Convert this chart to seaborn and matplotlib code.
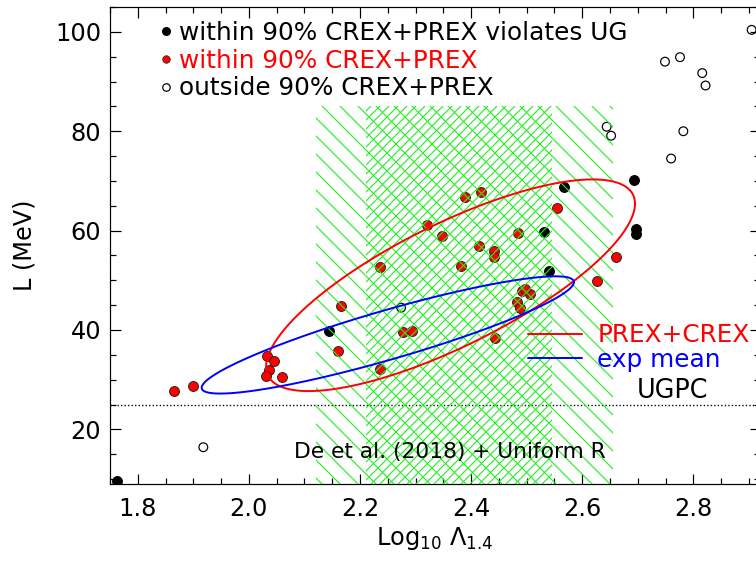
import numpy as np
import pandas as pd
import matplotlib
matplotlib.use("Agg")
import matplotlib.pyplot as plt
import seaborn as sns
from matplotlib.lines import Line2D
from matplotlib.ticker import MultipleLocator

# --- models: log10 tidal deformability vs symmetry-energy slope L (MeV) ---
viol_x = [1.762, 2.144, 2.532, 2.540, 2.567, 2.694, 2.696, 2.697]
viol_y = [9.6, 39.8, 59.8, 51.8, 68.8, 70.1, 60.3, 59.4]

within_x = [1.865, 1.899, 2.032, 2.045, 2.036, 2.031, 2.060, 2.166, 2.161,
            2.236, 2.236, 2.278, 2.293, 2.321, 2.347, 2.389, 2.418, 2.382,
            2.414, 2.441, 2.441, 2.443, 2.485, 2.554, 2.661, 2.627, 2.491,
            2.506, 2.483, 2.488, 2.497]
within_y = [27.7, 28.7, 34.7, 33.7, 31.9, 30.7, 30.6, 44.8, 35.8,
            32.1, 52.7, 39.6, 39.7, 61.2, 58.9, 66.8, 67.7, 52.9,
            56.8, 55.9, 54.6, 38.4, 59.5, 64.6, 54.6, 49.8, 47.9,
            47.2, 45.6, 44.5, 48.3]

outside_x = [1.918, 2.274, 2.644, 2.652, 2.749, 2.776, 2.816, 2.822, 2.782,
             2.760, 2.905]
outside_y = [16.4, 44.5, 80.9, 79.1, 94.0, 94.9, 91.7, 89.2, 80.0,
             74.5, 100.4]

# 90% confidence ellipses: centre, half extents, correlation
ell_names = ["PREX+CREX", "exp mean"]
ell_colors = ["red", "blue"]
ell_cx = [2.363, 2.250]
ell_cy = [49.0, 39.0]
ell_hx = [0.332, 0.335]
ell_hy = [21.3, 11.8]
ell_rho = [0.77, 0.90]

# unitary-gas lower limit on L
ugpc_L = 25.0

# GW170817 tidal-deformability band (De et al. 2018)
band_outer = [2.120, 2.655]
band_inner = [2.210, 2.545]
band_top = 85.0

sns.set_style("ticks")
plt.rcParams.update({
    "font.family": ["DejaVu Sans"],
    "mathtext.fontset": "dejavusans",
    "hatch.linewidth": 0.75,
    "axes.linewidth": 0.8,
    "axes.edgecolor": "black",
    "axes.labelcolor": "black",
    "text.color": "black",
    "xtick.color": "black",
    "ytick.color": "black",
})

fig = plt.figure(figsize=(7.0, 562 / 108), dpi=108)
ax = fig.add_axes([110 / 756, 78 / 562, 650 / 756, 477 / 562])

# points
sns.scatterplot(x=within_x, y=within_y, color="red", edgecolor="#222222",
                linewidth=0.6, s=44, zorder=3, legend=False, ax=ax)
sns.scatterplot(x=viol_x, y=viol_y, color="black", edgecolor="black",
                linewidth=0.6, s=44, zorder=3, legend=False, ax=ax)
sns.scatterplot(x=outside_x, y=outside_y, marker="o", facecolor="none",
                edgecolor="black", linewidth=0.8, s=34, zorder=3,
                legend=False, ax=ax)

# hatched band
ax.fill_between(band_outer, 0, band_top, facecolor="none", edgecolor="#22ee22",
                linewidth=0, hatch="\\\\", zorder=4)
ax.fill_between(band_inner, 0, band_top, facecolor="none", edgecolor="#22ee22",
                linewidth=0, hatch="////", zorder=4)

# ellipses
t = np.linspace(0, 2 * np.pi, 400)
for name, c, cx, cy, hx, hy, r in zip(ell_names, ell_colors, ell_cx, ell_cy,
                                      ell_hx, ell_hy, ell_rho):
    ex = cx + hx * np.cos(t)
    ey = cy + hy * np.cos(t - np.arccos(r))
    sns.lineplot(x=ex, y=ey, sort=False, estimator=None, color=c, lw=1.3,
                 zorder=5, ax=ax)

ax.axhline(ugpc_L, color="black", lw=0.9, linestyle=(0, (1, 1.6)), zorder=2)

ax.set_xlim(1.75, 2.92)
ax.set_ylim(9, 105)
ax.xaxis.set_major_locator(MultipleLocator(0.2))
ax.xaxis.set_minor_locator(MultipleLocator(0.05))
ax.yaxis.set_major_locator(MultipleLocator(20))
ax.yaxis.set_minor_locator(MultipleLocator(5))
ax.tick_params(which="both", direction="in", top=True, right=True, width=0.8)
ax.tick_params(which="major", length=7, labelsize=16)
ax.tick_params(which="minor", length=4)
ax.tick_params(axis="x", pad=9)
ax.tick_params(axis="y", pad=6)
for sp in ax.spines.values():
    sp.set_visible(True)
ax.xaxis.set_major_formatter(matplotlib.ticker.FormatStrFormatter("%.1f"))

ax.set_xlabel(r"Log$_{10}$ $\Lambda_{1.4}$", fontsize=16, labelpad=2)
ax.set_ylabel("L (MeV)", fontsize=16, labelpad=12)

# category legend
cat_handles = [
    Line2D([], [], ls="none", marker="o", ms=5, mfc="black", mec="black"),
    Line2D([], [], ls="none", marker="o", ms=5, mfc="red", mec="#222222", mew=0.5),
    Line2D([], [], ls="none", marker="o", ms=5, mfc="none", mec="black", mew=0.8),
]
cat_labels = ["within 90% CREX+PREX violates UG", "within 90% CREX+PREX",
              "outside 90% CREX+PREX"]
leg1 = ax.legend(cat_handles, cat_labels, loc="upper left",
                 bbox_to_anchor=(0.077, 0.971), frameon=False, fontsize=16.5,
                 handlelength=0.5, handletextpad=0.25, borderpad=0,
                 borderaxespad=0, labelspacing=0.15)
leg1.get_texts()[1].set_color("red")
ax.add_artist(leg1)

# ellipse legend
ell_handles = [Line2D([], [], color=c, lw=1.3) for c in ell_colors]
leg2 = ax.legend(ell_handles, ell_names, loc="upper left",
                 bbox_to_anchor=(0.643, 0.337), frameon=False, fontsize=16.5,
                 handlelength=2.2, handletextpad=0.6, borderpad=0,
                 borderaxespad=0, labelspacing=0.03)
for txt, c in zip(leg2.get_texts(), ell_colors):
    txt.set_color(c)

ax.text(2.763, 26.3, "UGPC", fontsize=17, ha="center", va="baseline",
        zorder=6)
ax.text(2.361, 14.3, "De et al. (2018) + Uniform R", fontsize=14.5,
        ha="center", va="baseline", zorder=6)

fig.savefig("out.png", dpi=108)
